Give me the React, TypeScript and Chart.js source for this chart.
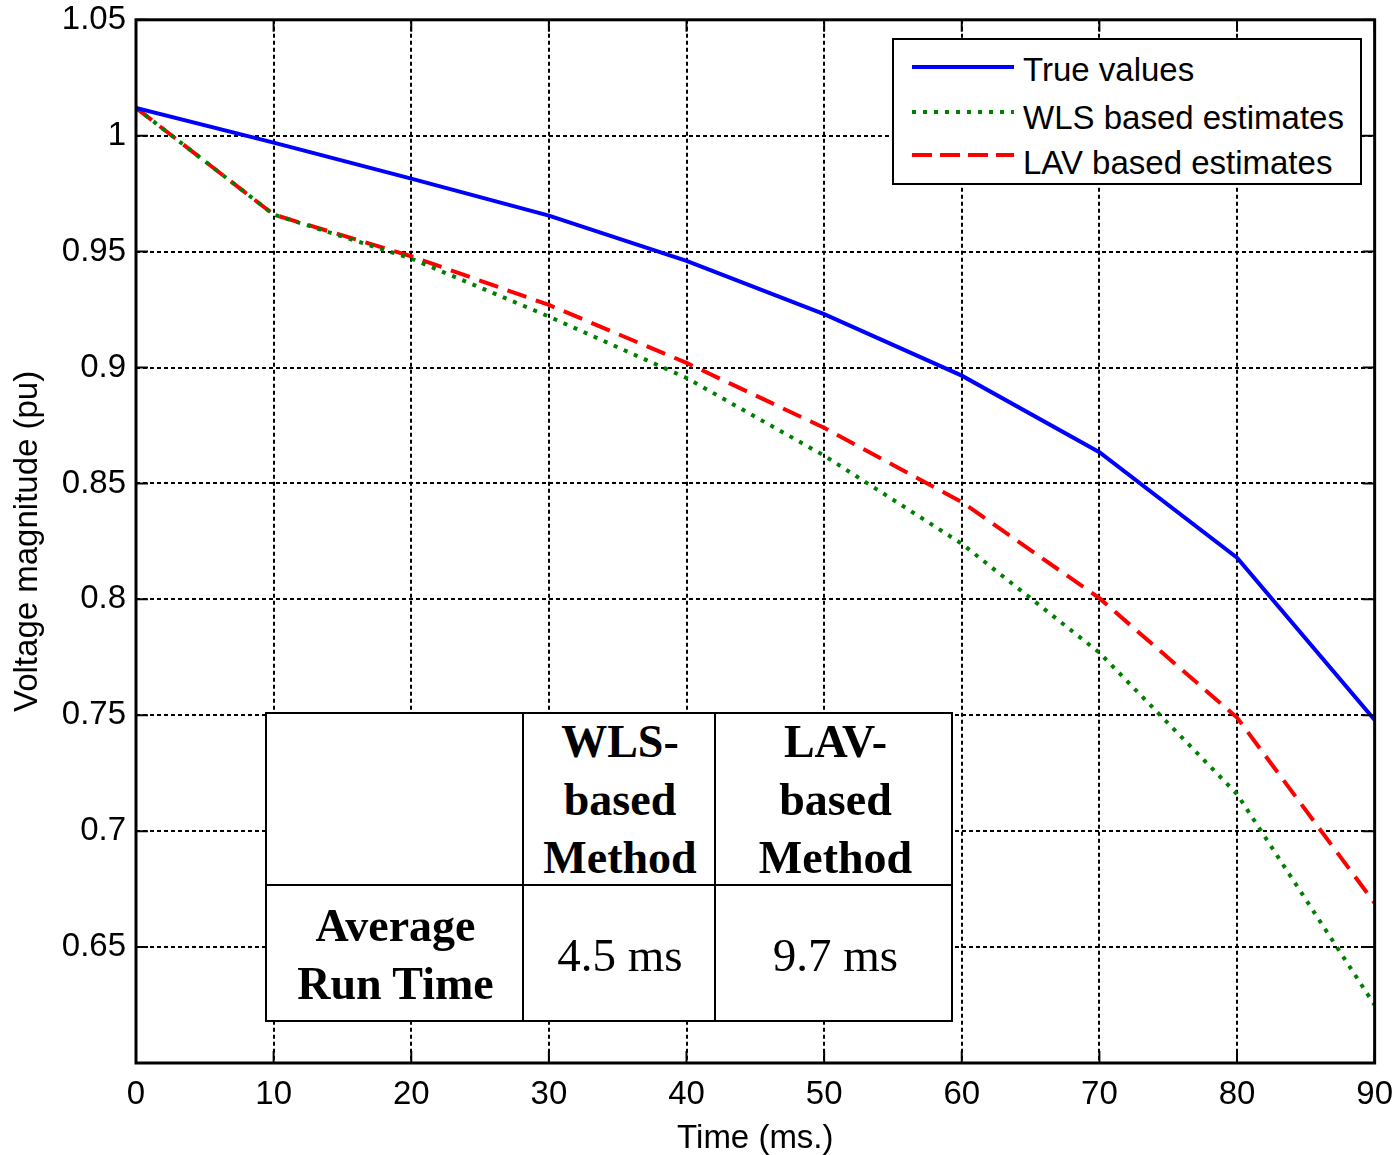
import React, { useEffect, useRef } from 'react';
import { Chart, registerables } from 'chart.js';

Chart.register(...registerables);

const timeMs = [0, 10, 20, 30, 40, 50, 60, 70, 80, 90];
const trueValues = [1.012, 0.997, 0.9815, 0.9655, 0.946, 0.923, 0.8965, 0.8635, 0.818, 0.748];
const wlsEstimates = [1.012, 0.966, 0.947, 0.922, 0.8955, 0.862, 0.824, 0.777, 0.716, 0.625];
const lavEstimates = [1.012, 0.966, 0.948, 0.927, 0.902, 0.874, 0.842, 0.8005, 0.749, 0.669];
const xTickValues = [0, 10, 20, 30, 40, 50, 60, 70, 80, 90];
const yTickValues = [0.65, 0.7, 0.75, 0.8, 0.85, 0.9, 0.95, 1, 1.05];
const legendLabels = ['True values', 'WLS based estimates', 'LAV based estimates'];
const tableHeaders = [['WLS-', 'based', 'Method'], ['LAV-', 'based', 'Method']];
const tableRowLabel = ['Average', 'Run Time'];
const tableRunTimes = ['4.5 ms', '9.7 ms'];

const SANS = '"Liberation Sans", Arial, sans-serif';
const SERIF = '"Liberation Serif", "Times New Roman", serif';

// canvas is a bit larger than the page and shifted so that Chart.js's
// automatic label overflow padding lands the plot area where the reference has it
const CANVAS_W = 1405;
const CANVAS_H = 1165;
const CANVAS_TOP = -10;

const framePlugin = {
  id: 'matlabFrame',
  afterDraw(chart: any) {
    const { ctx, chartArea, scales } = chart;
    const { left, right, top, bottom } = chartArea;
    const L = 12;
    ctx.save();
    ctx.setLineDash([]);
    ctx.strokeStyle = '#000';
    ctx.lineWidth = 2;
    ctx.beginPath();
    xTickValues.forEach((v) => {
      const px = scales.x.getPixelForValue(v);
      ctx.moveTo(px, bottom);
      ctx.lineTo(px, bottom - L);
      ctx.moveTo(px, top);
      ctx.lineTo(px, top + L);
    });
    yTickValues.forEach((v) => {
      const py = scales.y.getPixelForValue(v);
      ctx.moveTo(left, py);
      ctx.lineTo(left + L, py);
      ctx.moveTo(right, py);
      ctx.lineTo(right - L, py);
    });
    ctx.stroke();
    ctx.lineWidth = 3;
    ctx.strokeRect(left, top, right - left, bottom - top);
    ctx.restore();
  },
};

function ChartCanvas() {
  const ref = useRef<HTMLCanvasElement | null>(null);
  useEffect(() => {
    if (!ref.current) return;
    const mk = (arr: number[]) => timeMs.map((t, i) => ({ x: t, y: arr[i] }));
    const chart = new Chart(ref.current, {
      type: 'line',
      data: {
        datasets: [
          {
            label: legendLabels[0],
            data: mk(trueValues),
            borderColor: '#0000ff',
            borderWidth: 4,
            pointRadius: 0,
            tension: 0,
          },
          {
            label: legendLabels[1],
            data: mk(wlsEstimates),
            borderColor: '#008000',
            borderWidth: 4,
            borderDash: [4, 7],
            borderCapStyle: 'butt',
            pointRadius: 0,
            tension: 0,
          },
          {
            label: legendLabels[2],
            data: mk(lavEstimates),
            borderColor: '#ff0000',
            borderWidth: 4,
            borderDash: [20, 10],
            borderCapStyle: 'butt',
            pointRadius: 0,
            tension: 0,
          },
        ],
      },
      options: {
        animation: false,
        responsive: false,
        maintainAspectRatio: false,
        layout: { padding: { top: 19, right: 21, left: 0, bottom: 0 } },
        plugins: { legend: { display: false }, tooltip: { enabled: false } },
        scales: {
          x: {
            type: 'linear',
            min: 0,
            max: 90,
            afterBuildTicks: (s: any) => {
              s.ticks = xTickValues.map((v) => ({ value: v }));
            },
            afterFit: (s: any) => {
              s.height = 92;
            },
            grid: { color: '#000', lineWidth: 2, drawTicks: false },
            border: { display: false, dash: [4, 3] },
            ticks: {
              color: '#000',
              padding: 12,
              font: { family: SANS, size: 33, lineHeight: 1.2 },
              callback: (v: any) => String(v),
            },
            title: {
              display: true,
              text: 'Time (ms.)',
              color: '#000',
              font: { family: SANS, size: 33, lineHeight: 1 },
              padding: { top: 0, bottom: 0 },
            },
          },
          y: {
            type: 'linear',
            min: 0.6,
            max: 1.05,
            afterBuildTicks: (s: any) => {
              s.ticks = yTickValues.map((v) => ({ value: v }));
            },
            afterFit: (s: any) => {
              s.width = 136;
            },
            grid: { color: '#000', lineWidth: 2, drawTicks: false },
            border: { display: false, dash: [4, 3] },
            ticks: {
              color: '#000',
              padding: 10,
              font: { family: SANS, size: 33, lineHeight: 1.2 },
              callback: (v: any) => String(Number(Number(v).toFixed(2))),
            },
            title: {
              display: true,
              text: 'Voltage magnitude (pu)',
              color: '#000',
              font: { family: SANS, size: 33, lineHeight: 1 },
              padding: { top: 11.5, bottom: 0 },
            },
          },
        },
      },
      plugins: [framePlugin],
    } as any);
    return () => chart.destroy();
  }, []);
  return (
    <canvas
      ref={ref}
      width={CANVAS_W}
      height={CANVAS_H}
      style={{ position: 'absolute', left: 0, top: CANVAS_TOP, display: 'block', width: CANVAS_W, height: CANVAS_H }}
    />
  );
}

function LegendBox() {
  const rows = [
    { label: legendLabels[0], color: '#0000ff', dash: '', width: 4, lineY: 67, textY: 70 },
    { label: legendLabels[1], color: '#008000', dash: '4 7', width: 4, lineY: 112, textY: 118 },
    { label: legendLabels[2], color: '#ff0000', dash: '20 8', width: 4, lineY: 155, textY: 163 },
  ];
  const boxLeft = 892;
  const boxTop = 38;
  return (
    <div
      style={{
        position: 'absolute',
        left: boxLeft,
        top: boxTop,
        width: 470,
        height: 147,
        boxSizing: 'border-box',
        border: '2px solid #000',
        background: '#fff',
      }}
    >
      {rows.map((r) => (
        <React.Fragment key={r.label}>
          <svg
            width={102}
            height={10}
            style={{ position: 'absolute', left: 912 - boxLeft - 2, top: r.lineY - boxTop - 2 - 5 }}
          >
            <line
              x1={0}
              y1={5}
              x2={102}
              y2={5}
              stroke={r.color}
              strokeWidth={r.width}
              strokeDasharray={r.dash || undefined}
            />
          </svg>
          <div
            style={{
              position: 'absolute',
              left: 1023 - boxLeft - 2,
              top: r.textY - boxTop - 2 - 20,
              height: 40,
              lineHeight: '40px',
              fontFamily: SANS,
              fontSize: 33,
              color: '#000',
              whiteSpace: 'nowrap',
            }}
          >
            {r.label}
          </div>
        </React.Fragment>
      ))}
    </div>
  );
}

function RunTimeTable() {
  const L = 265;
  const T = 712;
  const W = 953 - 265;
  const H = 1022 - 712;
  const cols = [0, 522 - L, 714 - L, W];
  const rowSplit = 884 - T;
  const cell = (x0: number, x1: number, y0: number, y1: number, content: React.ReactNode, bold: boolean, key: string) => (
    <div
      key={key}
      style={{
        position: 'absolute',
        left: x0,
        top: y0,
        width: x1 - x0,
        height: y1 - y0,
        display: 'flex',
        alignItems: 'center',
        justifyContent: 'center',
        textAlign: 'center',
        fontFamily: SERIF,
        fontWeight: bold ? 'bold' : 'normal',
        fontSize: bold ? 46 : 47,
        lineHeight: '58px',
        color: '#000',
      }}
    >
      <div>{content}</div>
    </div>
  );
  const lines = (arr: string[]) => arr.map((s, i) => <div key={i}>{s}</div>);
  return (
    <div
      style={{
        position: 'absolute',
        left: L,
        top: T,
        width: W,
        height: H,
        background: '#fff',
        boxSizing: 'border-box',
        border: '2px solid #000',
      }}
    >
      <div style={{ position: 'absolute', left: cols[1] - 2, top: -2, width: 2, height: H, background: '#000' }} />
      <div style={{ position: 'absolute', left: cols[2] - 2, top: -2, width: 2, height: H, background: '#000' }} />
      <div style={{ position: 'absolute', left: -2, top: rowSplit - 2, width: W, height: 2, background: '#000' }} />
      {cell(cols[1], cols[2], 0, rowSplit, lines(tableHeaders[0]), true, 'h1')}
      {cell(cols[2], cols[3], 0, rowSplit, lines(tableHeaders[1]), true, 'h2')}
      {cell(cols[0], cols[1], rowSplit, H, lines(tableRowLabel), true, 'r0')}
      {cell(cols[1], cols[2], rowSplit, H, tableRunTimes[0], false, 'r1')}
      {cell(cols[2], cols[3], rowSplit, H, tableRunTimes[1], false, 'r2')}
    </div>
  );
}

export default function App() {
  return (
    <div
      style={{
        position: 'absolute',
        left: 0,
        top: 0,
        width: 1397,
        height: 1155,
        overflow: 'hidden',
        background: '#fff',
      }}
    >
      <ChartCanvas />
      <LegendBox />
      <RunTimeTable />
    </div>
  );
}
